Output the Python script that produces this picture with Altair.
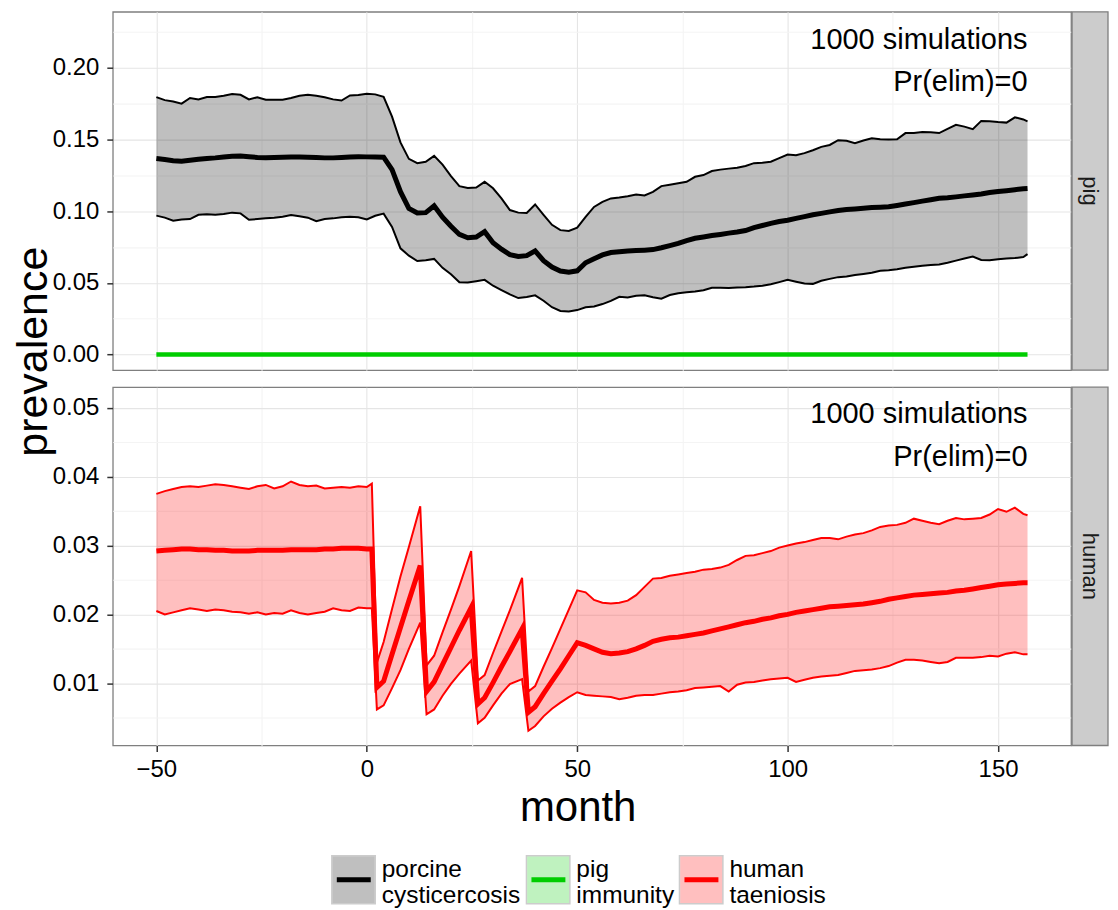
import altair as alt
import pandas as pd

# ---------------- data ----------------
pig_month = list(range(-50, 157, 2)) + [157]
pig_upper = [
    .1796, .1775, .1765, .1750, .1790, .1780, .1796, .1796, .1805, .1818,
    .1812, .1780, .1795, .1777, .1777, .1778, .1790, .1805, .1812, .1805,
    .1795, .1780, .1772, .1808, .1810, .1820,
    .1815, .1798, .1660, .1480, .1365, .1335, .1345, .1386, .1325, .1245,
    .1175, .1162, .1165, .1205, .1160, .1090, .1008, .0990, .0988, .1047,
    .0975, .0905, .0868, .0862, .0885, .0960, .1030, .1065, .1089,
    .1095, .1105, .1117, .1110, .1135, .1175, .1185, .1195, .1205, .1240,
    .1252, .1280, .1290, .1297, .1303, .1315, .1335, .1338, .1345, .1370,
    .1395, .1390, .1405, .1425, .1449, .1462, .1495, .1492, .1475, .1493,
    .1508, .1502, .1500, .1502, .1545, .1546, .1552, .1550, .1545, .1575,
    .1603, .1590, .1572, .1630, .1628, .1622, .1618, .1655, .1640,
    .1627]
pig_median = [
    .1367, .1360, .1352, .1349, .1355, .1362, .1368, .1372, .1378, .1383,
    .1385, .1380, .1375, .1373, .1375, .1377, .1378, .1378, .1376, .1374,
    .1372, .1372, .1375, .1378, .1380, .1379,
    .1378, .1377, .1290, .1136, .1020, .0988, .0990, .1038, .0958, .0895,
    .0838, .0815, .0820, .0857, .0780, .0735, .0697, .0684, .0690, .0723,
    .0655, .0610, .0583, .0574, .0584, .0640, .0668, .0695, .0712,
    .0717, .0722, .0725, .0728, .0732, .0745, .0760, .0775, .0795, .0811,
    .0820, .0830, .0838, .0847, .0855, .0865, .0885, .0900, .0915, .0928,
    .0937, .0950, .0962, .0975, .0985, .0995, .1005, .1012, .1016, .1020,
    .1025, .1028, .1031, .1040, .1050, .1060, .1070, .1080, .1090, .1094,
    .1100, .1107, .1113, .1120, .1130, .1137, .1143, .1150, .1157,
    .1159]
pig_lower = [
    .0969, .0955, .0934, .0942, .0945, .0975, .0978, .0976, .0980, .0990,
    .0985, .0940, .0945, .0950, .0955, .0962, .0973, .0965, .0955, .0930,
    .0945, .0950, .0958, .0962, .0958, .0942,
    .0968, .0983, .0890, .0741, .0690, .0652, .0658, .0667, .0605, .0560,
    .0505, .0502, .0512, .0521, .0480, .0450, .0420, .0394, .0402, .0413,
    .0375, .0330, .0304, .0301, .0310, .0330, .0335, .0352, .0374,
    .0403, .0398, .0410, .0413, .0400, .0390, .0415, .0428, .0435, .0440,
    .0448, .0466, .0466, .0465, .0468, .0470, .0474, .0480, .0490, .0505,
    .0521, .0508, .0495, .0493, .0515, .0528, .0540, .0544, .0555, .0562,
    .0570, .0584, .0588, .0595, .0605, .0612, .0620, .0625, .0628, .0640,
    .0655, .0670, .0684, .0660, .0658, .0665, .0670, .0673, .0680,
    .0700]

immunity_month = [-50, 157]
immunity_value = [0.0, 0.0]

human_month = (list(range(-50, 1, 2)) +
               [1.2, 2.4, 4, 6, 8, 10, 12.7, 14.2, 16, 18, 20, 22, 24.8, 26.4,
                28, 30, 32, 34, 36.9, 38.4, 40, 42, 44, 46, 48, 50, 52, 54] +
               list(range(56, 157, 2)) + [157])
human_upper = [
    .0375, .0379, .0382, .0385, .0386, .0385, .0387, .0389, .0388, .0386,
    .0384, .0382, .0386, .0388, .0383, .0386, .0393, .0388, .0386, .0387,
    .0383, .0384, .0385, .0384, .0386, .0385,
    .0390, .0130, .0160, .0208, .0255, .0298, .0357, .0126, .0140, .0174,
    .0207, .0241, .0292, .0104, .0112, .0144, .0175, .0206, .0253, .0088,
    .0096, .0124, .0151, .0179, .0207, .0235, .0232, .0221,
    .0217, .0216, .0217, .0220, .0228, .0240, .0252, .0253, .0256, .0258,
    .0260, .0262, .0265, .0266, .0268, .0272, .0279, .0285, .0286, .0289,
    .0292, .0297, .0300, .0303, .0305, .0308, .0311, .0311, .0309, .0313,
    .0316, .0318, .0322, .0327, .0329, .0330, .0333, .0339, .0336, .0333,
    .0331, .0336, .0340, .0338, .0339, .0340, .0345, .0353, .0349, .0355, .0346,
    .0344]
human_median = [
    .0292, .0293, .0294, .0295, .0295, .0294, .0294, .0293, .0293, .0292,
    .0292, .0292, .0293, .0293, .0293, .0293, .0294, .0294, .0294, .0294,
    .0295, .0295, .0296, .0296, .0296, .0295,
    .0295, .0094, .0103, .0142, .0181, .0220, .0271, .0088, .0102, .0127,
    .0152, .0177, .0210, .0070, .0079, .0101, .0124, .0146, .0179, .0058,
    .0066, .0085, .0103, .0121, .0140, .0159, .0155, .0150,
    .0145, .0143, .0144, .0146, .0150, .0155, .0161, .0164, .0166, .0167,
    .0169, .0171, .0173, .0176, .0179, .0182, .0185, .0188, .0190, .0193,
    .0195, .0198, .0200, .0203, .0205, .0207, .0209, .0211, .0212, .0213,
    .0214, .0215, .0217, .0219, .0222, .0224, .0226, .0228, .0229, .0230,
    .0231, .0232, .0234, .0235, .0237, .0239, .0241, .0243, .0244, .0245, .0246,
    .0246]
human_lower = [
    .0205, .0200, .0203, .0206, .0209, .0207, .0205, .0207, .0206, .0204,
    .0203, .0201, .0203, .0200, .0202, .0201, .0206, .0202, .0200, .0202,
    .0204, .0209, .0206, .0205, .0210, .0209,
    .0209, .0062, .0068, .0093, .0119, .0150, .0188, .0055, .0062, .0082,
    .0099, .0114, .0133, .0042, .0050, .0068, .0085, .0099, .0106, .0031,
    .0038, .0052, .0063, .0072, .0080, .0087, .0083, .0082,
    .0081, .0080, .0077, .0079, .0082, .0083, .0083, .0085, .0087, .0088,
    .0090, .0093, .0094, .0095, .0096, .0088, .0098, .0101, .0102, .0104,
    .0106, .0107, .0108, .0102, .0105, .0108, .0110, .0111, .0112, .0115,
    .0118, .0119, .0120, .0122, .0125, .0130, .0134, .0134, .0133, .0131,
    .0129, .0131, .0137, .0137, .0137, .0138, .0140, .0139, .0143, .0145, .0142,
    .0142]

panel_names = ["pig", "human"]
annotation_text = ["1000 simulations", "Pr(elim)=0"]
pig_annotation_y = [0.2193, 0.1899]
human_annotation_y = [0.0491, 0.0428]
annotation_month = 157

legend_line1 = ["porcine", "pig", "human"]
legend_line2 = ["cysticercosis", "immunity", "taeniosis"]

x_ticks = [-50, -25, 0, 25, 50, 75, 100, 125, 150]
pig_ticks = [0.0, 0.025, 0.05, 0.075, 0.10, 0.125, 0.15, 0.175, 0.20, 0.225]
human_ticks = [0.005, 0.01, 0.015, 0.02, 0.025, 0.03, 0.035, 0.04, 0.045, 0.05]

# ---------------- styling ----------------
FONT = "Liberation Sans"
W, H = 960, 359
GAP = 17
X_DOMAIN = [-60.35, 167.35]
PIG_DOMAIN = [-0.0109, 0.2391]
HUMAN_DOMAIN = [0.00097, 0.0530]
MAJOR = "#E5E5E5"
MINOR = "#F4F4F4"
TICK = "#333333"
TICK_FS = 24
TITLE_FS = 43
XTITLE_FS = 42
ANN_FS = 29
STRIP_FS = 22
LEG_FS = 24.5
STRIP_END = 997

BLACK = "#000000"
GREEN = "#00CD00"
RED = "#FF0000"


def cond(test, a, b):
    return {"condition": {"test": test, "value": a}, "value": b}


x_major = "datum.value % 50 === 0"
pig_major = "abs(datum.value*20 - round(datum.value*20)) < 1e-6"
human_major = "abs(datum.value*100 - round(datum.value*100)) < 1e-6"

xscale = alt.Scale(domain=X_DOMAIN, nice=False, zero=False)

xaxis_top = alt.Axis(values=x_ticks, labels=False, ticks=False, domain=False,
                     title=None, grid=True, gridColor=cond(x_major, MAJOR, MINOR))
xaxis_bottom = alt.Axis(values=x_ticks, domain=False, title="month", grid=True,
                        gridColor=cond(x_major, MAJOR, MINOR),
                        tickColor=cond(x_major, TICK, "transparent"),
                        labelExpr=f"{x_major} ? datum.label : ''",
                        tickSize=6, tickWidth=1.5, labelFontSize=TICK_FS,
                        labelPadding=6, titleFontSize=XTITLE_FS, titlePadding=6,
                        titleX=465.7)


def yaxis(ticks, test):
    return alt.Axis(values=ticks, domain=False, title=None, grid=True,
                    gridColor=cond(test, MAJOR, MINOR),
                    tickColor=cond(test, TICK, "transparent"),
                    labelExpr=f"{test} ? format(datum.value, '.2f') : ''",
                    tickSize=6, tickWidth=1.5, labelFontSize=TICK_FS,
                    labelPadding=8)


def panel(month, upper, median, lower, ydomain, ticks, test, color, xaxis,
          ann_y, strip_label, extra=None, extra_layers=()):
    df = pd.DataFrame({"month": month, "upper": upper, "median": median,
                       "lower": lower})
    yscale = alt.Scale(domain=ydomain, nice=False, zero=False)
    ax = yaxis(ticks, test)
    X = alt.X("month:Q", scale=xscale, axis=xaxis)
    base = alt.Chart(df)
    band = base.mark_area(color=color, opacity=0.25).encode(
        x=X, y=alt.Y("lower:Q", scale=yscale, axis=ax), y2="upper:Q")
    lo = base.mark_line(color=color, strokeWidth=2).encode(
        x=X, y=alt.Y("lower:Q", scale=yscale, axis=ax))
    up = base.mark_line(color=color, strokeWidth=2).encode(
        x=X, y=alt.Y("upper:Q", scale=yscale, axis=ax))
    med = base.mark_line(color=color, strokeWidth=5).encode(
        x=X, y=alt.Y("median:Q", scale=yscale, axis=ax))
    layers = [band, lo, up, med]
    if extra is not None:
        edf = pd.DataFrame({"month": extra[0], "value": extra[1]})
        layers.append(alt.Chart(edf).mark_line(color=GREEN, strokeWidth=4.5).encode(
            x=X, y=alt.Y("value:Q", scale=yscale, axis=ax)))
    adf = pd.DataFrame({"month": [annotation_month] * 2, "value": ann_y,
                        "text": annotation_text})
    layers.append(alt.Chart(adf).mark_text(
        font=FONT, fontSize=ANN_FS, align="right", baseline="middle",
        color="black").encode(x=X, y=alt.Y("value:Q", scale=yscale, axis=ax),
                              text="text:N"))
    sdf = pd.DataFrame({"panel": [strip_label]})
    layers.append(alt.Chart(sdf).mark_rect(
        fill="#CCCCCC", stroke="#7F7F7F", strokeWidth=1.3).encode(
        x=alt.value(W + 1), x2=alt.value(STRIP_END), y=alt.value(0), y2=alt.value(H)))
    layers.append(alt.Chart(sdf).mark_text(
        font=FONT, fontSize=STRIP_FS, angle=90, align="center",
        baseline="middle", color="#1A1A1A").encode(
        x=alt.value((W + 1 + STRIP_END) / 2), y=alt.value(H / 2), text="panel:N"))
    layers.extend(extra_layers)
    return alt.layer(*layers).properties(width=W, height=H)


one = pd.DataFrame({"k": [0]})

# y-axis title shared by both panels
ytitle = alt.Chart(one).mark_text(
    font=FONT, fontSize=TITLE_FS, angle=270, align="center", baseline="middle",
    color="black").encode(x=alt.value(-78.8), y=alt.value(340.5),
                          text=alt.value("prevalence"))

# manual legend below the bottom panel
legend_fill = ["#000000", GREEN, RED]
legend_key_x = [219.4, 414.4, 567.7]
KEY_TOP = 469.5
legend_layers = []
for i in range(3):
    kx = legend_key_x[i]
    ldf = pd.DataFrame({"l1": [legend_line1[i]], "l2": [legend_line2[i]]})
    lc = alt.Chart(ldf)
    legend_layers.append(lc.mark_rect(fill="white", stroke="#CCCCCC",
                                      strokeWidth=1.5).encode(
        x=alt.value(kx), x2=alt.value(kx + 43.5), y=alt.value(KEY_TOP),
        y2=alt.value(KEY_TOP + 48)))
    legend_layers.append(lc.mark_rect(fill=legend_fill[i], opacity=0.25).encode(
        x=alt.value(kx + 0.75), x2=alt.value(kx + 42.75), y=alt.value(KEY_TOP + 0.75),
        y2=alt.value(KEY_TOP + 47.25)))
    legend_layers.append(lc.mark_rule(color=legend_fill[i], strokeWidth=5).encode(
        x=alt.value(kx + 5), x2=alt.value(kx + 39), y=alt.value(KEY_TOP + 24)))
    legend_layers.append(lc.mark_text(font=FONT, fontSize=LEG_FS, align="left",
                                      baseline="alphabetic", color="black").encode(
        x=alt.value(kx + 50), y=alt.value(KEY_TOP + 21), text="l1:N"))
    legend_layers.append(lc.mark_text(font=FONT, fontSize=LEG_FS, align="left",
                                      baseline="alphabetic", color="black").encode(
        x=alt.value(kx + 50), y=alt.value(KEY_TOP + 47.5), text="l2:N"))

top = panel(pig_month, pig_upper, pig_median, pig_lower, PIG_DOMAIN, pig_ticks,
            pig_major, BLACK, xaxis_top, pig_annotation_y, panel_names[0],
            extra=(immunity_month, immunity_value), extra_layers=[ytitle])
bottom = panel(human_month, human_upper, human_median, human_lower, HUMAN_DOMAIN,
               human_ticks, human_major, RED, xaxis_bottom, human_annotation_y,
               panel_names[1], extra_layers=legend_layers)

chart = alt.vconcat(top, bottom, spacing=GAP, bounds="flush").properties(
    padding={"left": 4, "top": 1, "right": 0, "bottom": 0}
).configure(font=FONT).configure_view(
    stroke="#7F7F7F", strokeWidth=1.3
).configure_axis(
    labelFont=FONT, titleFont=FONT, labelColor="black", titleColor="black",
    titleFontWeight="normal", gridWidth=1.1
)

chart.save("out.html", embed_options={"renderer": "svg", "actions": False})
